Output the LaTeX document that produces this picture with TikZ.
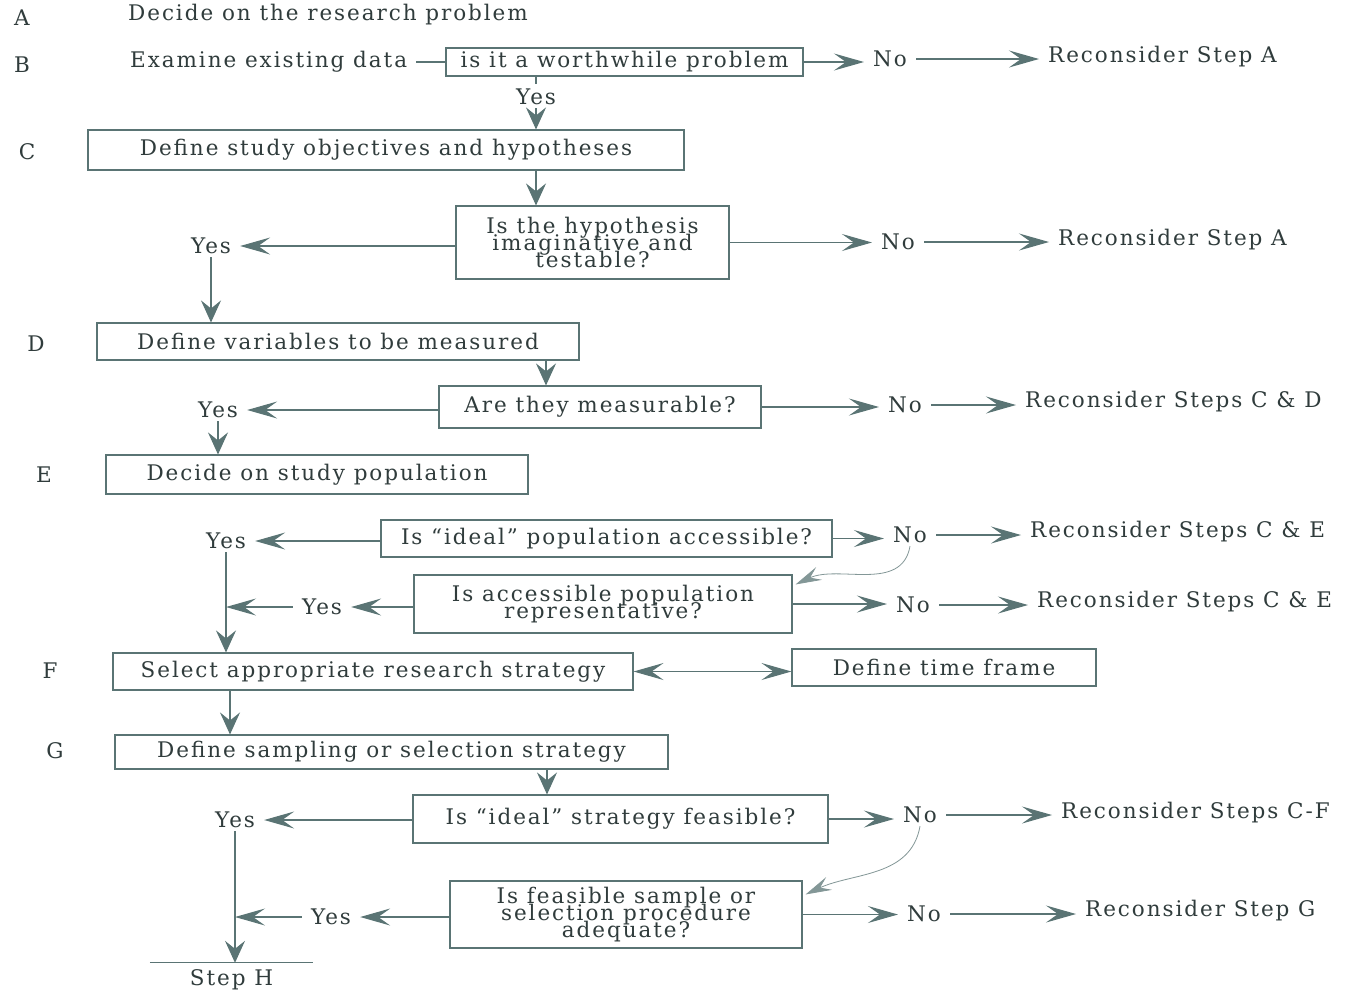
\documentclass[tikz,border=0pt]{standalone}
\usepackage{fontspec}
\setmainfont{DejaVu Serif}[LetterSpace=9]
\usetikzlibrary{arrows.meta}
\definecolor{lc}{HTML}{5A7474}
\definecolor{tc}{HTML}{303C3C}
\newcommand\tightlines{\lineskiplimit=-100pt\relax}
\begin{document}
\begin{tikzpicture}[x=1pt,y=-1pt,
 base/.style={font=\fontsize{21.5}{17}\selectfont\tightlines, text=tc},
 lab/.style={base, inner xsep=9pt, inner ysep=3pt},
 box/.style={base, draw=lc, line width=1.1pt, align=center, inner sep=0pt},
 ln/.style={draw=lc, line width=1.1pt},
 arr/.style={ln, -{Stealth[length=30pt,width=17pt,inset=12pt]}},
 varr/.style={ln, -{Stealth[length=22pt,width=20pt,inset=8pt]}},
 darr/.style={ln, {Stealth[length=30pt,width=17pt,inset=12pt]}-{Stealth[length=30pt,width=17pt,inset=12pt]}},
 carr/.style={draw=lc!75, line width=0.8pt, -{Stealth[length=26pt,width=14pt,inset=10pt]}},
]
\useasboundingbox (0,0) rectangle (1364,997);
\fill[white] (0,0) rectangle (1364,997);
% row A, B
\node[lab] (A) at (22,18) {A};
\node[lab,anchor=west] (tA) at (119,15) {Decide on the research problem};
\node[lab] (B) at (22,65) {B};
\node[lab,anchor=west] (tB) at (121,62) {Examine existing data};
\node[box,minimum width=357pt,minimum height=28pt] (bB) at (624.5,62) {is it a worthwhile problem};
\node[lab] (noB) at (890,59) {No};
\node[lab,anchor=west] (rB) at (1039,57) {Reconsider Step A};
\draw[ln] (tB.east) -- (tB.east -| bB.west);
\draw[arr] (bB.east) -- (bB.east -| noB.west);
\draw[arr] (noB.east) -- (noB.east -| rB.west);
\node[lab] (yB) at (536,97) {Yes};
\draw[ln] (bB.south -| yB) -- ([yshift=2pt]yB.north);
% C
\node[lab] (C) at (27,152) {C};
\node[box,minimum width=596pt,minimum height=40pt] (bC) at (386,150) {Define study objectives and hypotheses};
\draw[varr] (yB.south) -- (yB.south |- bC.north);
\node[box,minimum width=273pt,minimum height=73pt] (bH) at (592.5,242.5) {Is the hypothesis\\imaginative and\\testable?};
\draw[varr] (bC.south -| yB) -- (bH.north -| yB);
\node[lab] (yH) at (211,246) {Yes};
\node[lab] (noH) at (898,242) {No};
\node[lab,anchor=west] (rH) at (1049,240) {Reconsider Step A};
\draw[arr] (yH.east -| bH.west) -- (yH.east);
\draw[arr] (bH.east) -- (bH.east -| noH.west);
\draw[arr] (noH.east) -- (noH.east -| rH.west);
% D
\node[lab] (D) at (36,344) {D};
\node[box,minimum width=482pt,minimum height=37pt] (bD) at (338,341.5) {Define variables to be measured};
\draw[varr] (yH.south) -- (yH.south |- bD.north);
\node[box,minimum width=322pt,minimum height=42pt] (bM) at (600,407) {Are they measurable?};
\draw[varr] ([xshift=208pt]bD.south) -- ([xshift=208pt]bD.south |- bM.north);
\node[lab] (yM) at (218,410) {Yes};
\node[lab] (noM) at (905,405) {No};
\node[lab,anchor=west] (rM) at (1016,402) {Reconsider Steps C \& D};
\draw[arr] (yM.east -| bM.west) -- (yM.east);
\draw[arr] (bM.east) -- (bM.east -| noM.west);
\draw[arr] (noM.east) -- (noM.east -| rM.west);
% E
\node[lab] (E) at (44,475) {E};
\node[box,minimum width=422pt,minimum height=39pt] (bE) at (317,474.5) {Decide on study population};
\draw[varr] (yM.south) -- (yM.south |- bE.north);
\node[box,minimum width=451pt,minimum height=37pt] (bP) at (606.5,538.5) {Is ``ideal'' population accessible?};
\node[lab] (yP) at (226,541) {Yes};
\node[lab] (noP) at (910,535) {No};
\node[lab,anchor=west] (rP) at (1021,532) {Reconsider Steps C \& E};
\draw[arr] (yP.east -| bP.west) -- (yP.east);
\draw[arr] (bP.east) -- (bP.east -| noP.west);
\draw[arr] (noP.east) -- (noP.east -| rP.west);
\node[box,minimum width=378pt,minimum height=58pt] (bR) at (603,604) {Is accessible population\\representative?};
\draw[carr] (noP.south) to[out=-100,in=25] ([xshift=3pt,yshift=-10pt]bR.north east);
\node[lab] (yR) at (322,607) {Yes};
\node[lab] (noR) at (913,605) {No};
\node[lab,anchor=west] (rR) at (1028,602) {Reconsider Steps C \& E};
\draw[arr] (yR.east -| bR.west) -- (yR.east);
\draw[arr] (yR.west) -- (yR.west -| yP);
\draw[arr] (bR.east) -- (bR.east -| noR.west);
\draw[arr] (noR.east) -- (noR.east -| rR.west);
% F
\node[lab] (F) at (50,671) {F};
\node[box,minimum width=520pt,minimum height=37pt] (bF) at (373,671.5) {Select appropriate research strategy};
\node[box,minimum width=304pt,minimum height=37pt] (bT) at (944,667.5) {Define time frame};
\draw[varr] (yP.south) -- (yP.south |- bF.north);
\draw[darr] (bF.east) -- (bF.east -| bT.west);
% G
\node[lab] (G) at (55,751) {G};
\node[box,minimum width=553pt,minimum height=34pt] (bG) at (391.5,752) {Define sampling or selection strategy};
\draw[varr] ([xshift=-143pt]bF.south) -- ([xshift=-143pt]bF.south |- bG.north);
\node[box,minimum width=415pt,minimum height=48pt] (bS) at (620.5,819) {Is ``ideal'' strategy feasible?};
\draw[varr] ([xshift=155.5pt]bG.south) -- ([xshift=155.5pt]bG.south |- bS.north);
\node[lab] (yS) at (235,820) {Yes};
\node[lab] (noS) at (920,815) {No};
\node[lab,anchor=west] (rS) at (1052,813) {Reconsider Steps C-F};
\draw[arr] (yS.east -| bS.west) -- (yS.east);
\draw[arr] (bS.east) -- (bS.east -| noS.west);
\draw[arr] (noS.east) -- (noS.east -| rS.west);
\node[box,minimum width=352pt,minimum height=67pt] (bQ) at (626,914.5) {Is feasible sample or\\selection procedure\\adequate?};
\draw[carr] (noS.south) to[out=-100,in=25] ([xshift=3pt,yshift=-14pt]bQ.north east);
\node[lab] (yQ) at (331,917) {Yes};
\node[lab] (noQ) at (924,914) {No};
\node[lab,anchor=west] (rQ) at (1076,911) {Reconsider Step G};
\draw[arr] (yQ.east -| bQ.west) -- (yQ.east);
\draw[arr] (yQ.west) -- (yQ.west -| yS);
\draw[arr] (bQ.east) -- (bQ.east -| noQ.west);
\draw[arr] (noQ.east) -- (noQ.east -| rQ.west);
% H
\node[base,minimum width=163pt,minimum height=34pt,inner sep=0pt] (sH) at (231.5,980) {Step H};
\draw[varr] (yS.south) -- (yS.south |- sH.north);
\draw[ln] (sH.north west) -- (sH.north east);
\end{tikzpicture}
\end{document}
